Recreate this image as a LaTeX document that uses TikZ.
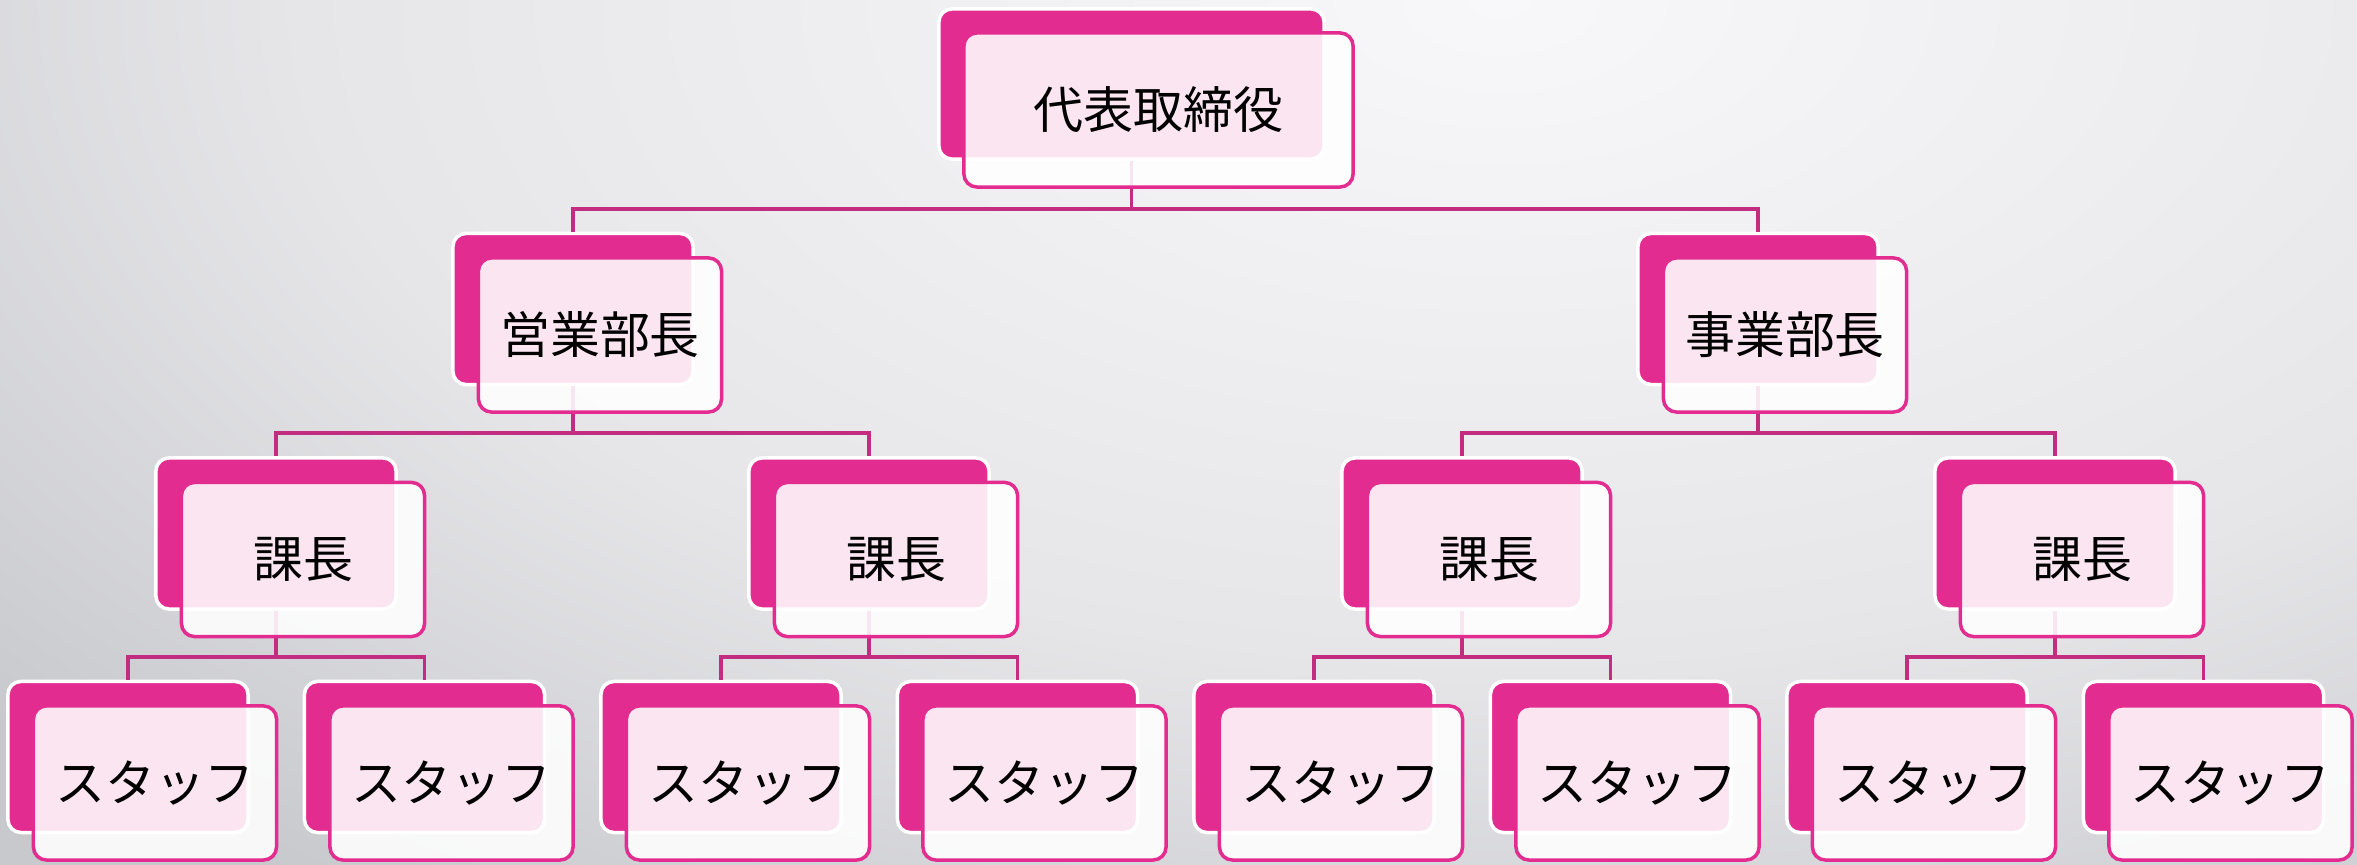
\documentclass[tikz,border=0pt]{standalone}
\usepackage{fontspec}
\newfontfamily\jp{Noto Sans CJK JP}
\definecolor{orgmagenta}{RGB}{227,44,144}
\definecolor{orglink}{RGB}{195,45,128}
\definecolor{bgA}{RGB}{248,248,250}
\definecolor{bgB}{RGB}{230,230,233}
\definecolor{bgC}{RGB}{200,201,205}
\pgfdeclareradialshading{bgglow}{\pgfpointorigin}{color(0bp)=(bgA); color(15bp)=(bgB); color(25bp)=(bgC); color(50bp)=(bgC)}

\begin{document}
\begin{tikzpicture}[x=0.01cm, y=-0.01cm,
    backbox/.style={draw=white, line width=0.035cm, fill=orgmagenta, rounded corners=0.13cm, minimum width=2.40cm, minimum height=1.51cm, inner sep=0pt},
    frontbox/.style={draw=orgmagenta, line width=0.035cm, fill=white, fill opacity=0.88, text opacity=1, rounded corners=0.13cm, minimum width=2.43cm, minimum height=1.54cm, inner sep=0pt, font=\jp\fontsize{14.2pt}{17pt}\selectfont},
    link/.style={draw=orglink, line width=0.035cm}]
        \useasboundingbox (0,0) rectangle (2357,865);
        \begin{scope}
            \clip (0,0) rectangle (2357,865);
            \shade [shading=bgglow] (-500,-1100) rectangle (3500,1100);
        \end{scope}

        \node [backbox, minimum width=3.85cm, minimum height=1.50cm] (B0) at (1131.5, 84) {};

        \node [backbox] (B1) at ( 573, 309) {};
        \node [backbox] (B2) at (1758, 309) {};

        \node [backbox] (B3) at ( 276, 533.5) {};
        \node [backbox] (B4) at ( 869, 533.5) {};
        \node [backbox] (B5) at (1462, 533.5) {};
        \node [backbox] (B6) at (2055, 533.5) {};

        \node [backbox] (B7)  at ( 128,   757) {};
        \node [backbox] (B8)  at ( 424.5, 757) {};
        \node [backbox] (B9)  at ( 721,   757) {};
        \node [backbox] (B10) at (1017.5, 757) {};
        \node [backbox] (B11) at (1314,   757) {};
        \node [backbox] (B12) at (1610.5, 757) {};
        \node [backbox] (B13) at (1907,   757) {};
        \node [backbox] (B14) at (2203.5, 757) {};

        \coordinate (J0) at (B0 |- 0,209);
        \coordinate (J1) at (B1 |- 0,433);
        \coordinate (J2) at (B2 |- 0,433);
        \coordinate (J3) at (B3 |- 0,657);
        \coordinate (J4) at (B4 |- 0,657);
        \coordinate (J5) at (B5 |- 0,657);
        \coordinate (J6) at (B6 |- 0,657);

        \draw [link] (B0.south) -- (J0) -| (B1.north);
        \draw [link] (J0) -| (B2.north);
        \draw [link] (B1.south) -- (J1) -| (B3.north);
        \draw [link] (J1) -| (B4.north);
        \draw [link] (B2.south) -- (J2) -| (B5.north);
        \draw [link] (J2) -| (B6.north);
        \draw [link] (B3.south) -- (J3) -| (B7.north);
        \draw [link] (J3) -| (B8.north);
        \draw [link] (B4.south) -- (J4) -| (B9.north);
        \draw [link] (J4) -| (B10.north);
        \draw [link] (B5.south) -- (J5) -| (B11.north);
        \draw [link] (J5) -| (B12.north);
        \draw [link] (B6.south) -- (J6) -| (B13.north);
        \draw [link] (J6) -| (B14.north);

        \node [frontbox, minimum width=3.89cm] (F0) at (1158.5, 110) {代表取締役};

        \node [frontbox] (F1) at ( 600, 335) {営業部長};
        \node [frontbox] (F2) at (1785, 335) {事業部長};

        \node [frontbox] (F3) at ( 303, 559.5) {課長};
        \node [frontbox] (F4) at ( 896, 559.5) {課長};
        \node [frontbox] (F5) at (1489, 559.5) {課長};
        \node [frontbox] (F6) at (2082, 559.5) {課長};

        \node [frontbox] (F7)  at ( 155,   783) {スタッフ};
        \node [frontbox] (F8)  at ( 451.5, 783) {スタッフ};
        \node [frontbox] (F9)  at ( 748,   783) {スタッフ};
        \node [frontbox] (F10) at (1044.5, 783) {スタッフ};
        \node [frontbox] (F11) at (1341,   783) {スタッフ};
        \node [frontbox] (F12) at (1637.5, 783) {スタッフ};
        \node [frontbox] (F13) at (1934,   783) {スタッフ};
        \node [frontbox] (F14) at (2230.5, 783) {スタッフ};
\end{tikzpicture}
\end{document}
